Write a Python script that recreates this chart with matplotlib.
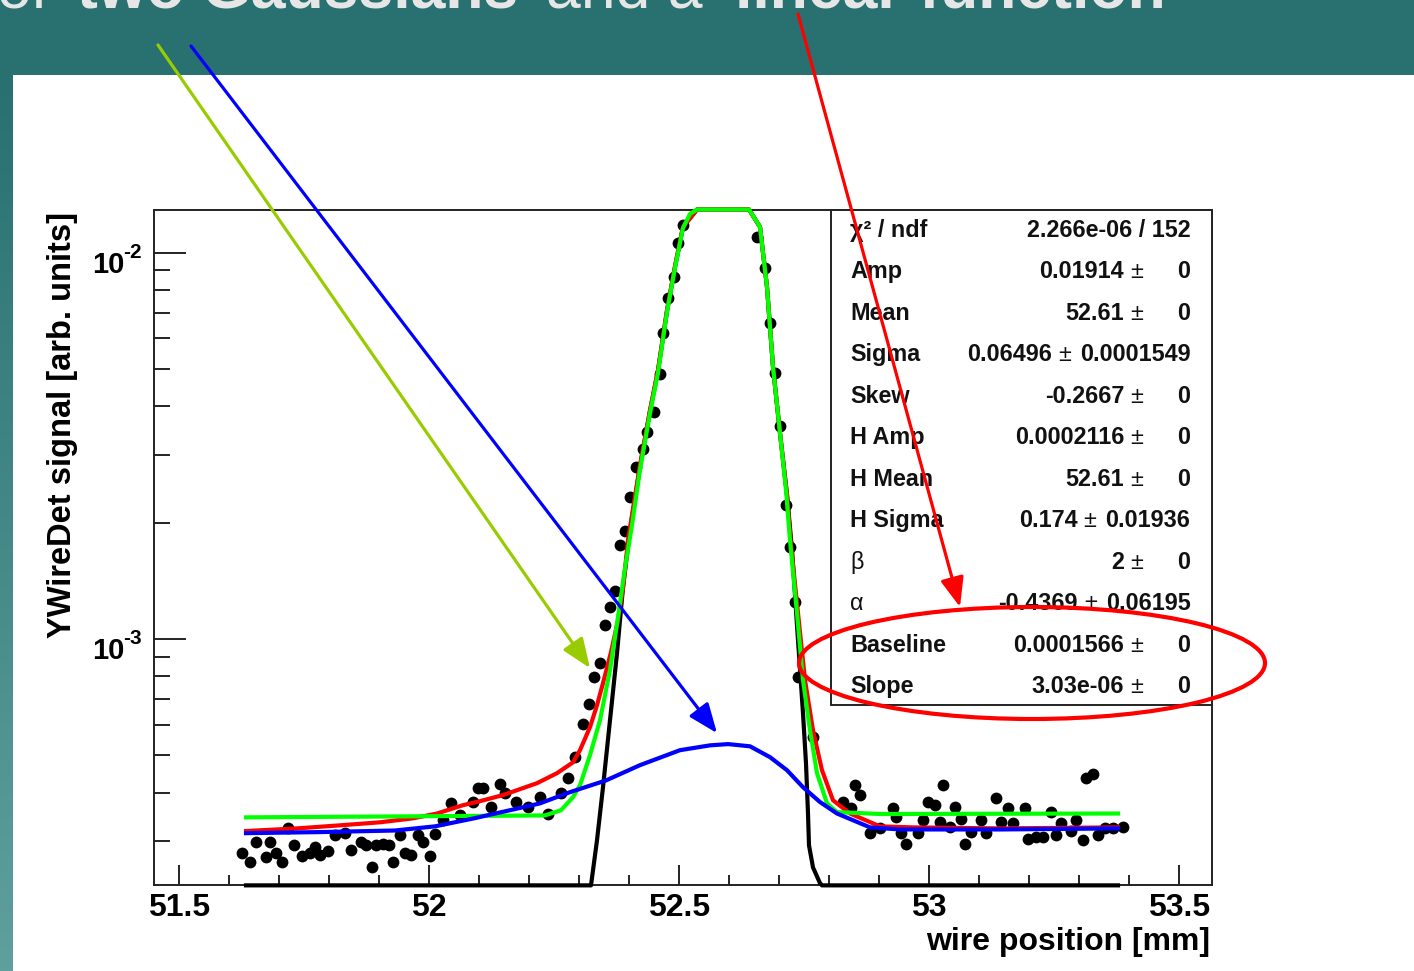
import numpy as np
import matplotlib
matplotlib.use('Agg')
import matplotlib.pyplot as plt
from matplotlib.patches import Rectangle, Ellipse, ConnectionPatch
from matplotlib.ticker import MultipleLocator, LogLocator, NullFormatter
from matplotlib import transforms

plt.rcParams['font.family'] = ['Liberation Sans', 'DejaVu Sans']

E4 = 1e-4  # all signal values below are in units of 1e-4

# wire scan: position [mm] and detector signal
scan_x = [51.627, 51.643, 51.655, 51.674, 51.683, 51.695, 51.707, 51.719, 51.730, 51.747,
          51.762, 51.772, 51.782, 51.799, 51.812, 51.832, 51.845, 51.865, 51.875, 51.887,
          51.895, 51.909, 51.921, 51.929, 51.942, 51.952, 51.965, 51.979, 51.989, 52.002,
          52.012, 52.029, 52.045, 52.062, 52.089, 52.099, 52.109, 52.125, 52.142, 52.152,
          52.175, 52.199, 52.222, 52.239, 52.265, 52.279, 52.292, 52.309, 52.321, 52.330,
          52.343, 52.352, 52.362, 52.372, 52.382, 52.392, 52.403, 52.415, 52.429, 52.437,
          52.451, 52.462, 52.469, 52.479, 52.491, 52.499, 52.509,
          52.657, 52.672, 52.682, 52.692, 52.702, 52.715, 52.723, 52.732, 52.739, 52.769,
          52.829, 52.845, 52.852, 52.862, 52.882, 52.902, 52.929, 52.935, 52.945, 52.955,
          52.979, 52.989, 52.999, 53.012, 53.022, 53.029, 53.042, 53.052, 53.065, 53.072,
          53.085, 53.105, 53.115, 53.135, 53.145, 53.159, 53.169, 53.192, 53.199, 53.215,
          53.229, 53.245, 53.255, 53.265, 53.285, 53.295, 53.309, 53.315, 53.329, 53.339,
          53.352, 53.369, 53.389]
scan_y = [2.79, 2.64, 2.98, 2.72, 2.98, 2.79, 2.64, 3.23, 2.92, 2.74,
          2.79, 2.89, 2.75, 2.83, 3.10, 3.14, 2.84, 2.98, 2.92, 2.56,
          2.92, 2.95, 2.92, 2.64, 3.10, 2.79, 2.75, 3.10, 2.98, 2.74,
          3.12, 3.39, 3.76, 3.49, 3.78, 4.10, 4.10, 3.67, 4.20, 3.98,
          3.78, 3.67, 3.89, 3.53, 4.00, 4.36, 4.94, 6.01, 6.77, 7.96,
          8.65, 10.85, 12.08, 13.3, 17.5, 19.0, 23.3, 27.9, 31.0, 34.3,
          38.7, 48.5, 61.9, 76.3, 86.5, 106.0, 117.9,
          109.8, 91.3, 65.8, 48.8, 35.6, 22.2, 17.3, 12.45, 7.96, 5.56,
          3.78, 3.64, 4.18, 3.94, 3.14, 3.23, 3.64, 3.45, 3.14, 2.95,
          3.14, 3.39, 3.78, 3.71, 3.36, 4.18, 3.26, 3.67, 3.42, 2.95,
          3.17, 3.39, 3.14, 3.88, 3.36, 3.64, 3.33, 3.64, 3.04, 3.07,
          3.07, 3.57, 3.10, 3.33, 3.19, 3.39, 3.01, 4.36, 4.48, 3.10,
          3.23, 3.23, 3.26]

# main skewed peak alone (black), as drawn inside the frame
peak_x = [51.634, 52.324, 52.336, 52.348, 52.362, 52.376, 52.388, 52.402, 52.422, 52.442,
          52.458, 52.476, 52.492, 52.508, 52.536, 52.640, 52.662, 52.676, 52.688, 52.702,
          52.716, 52.726, 52.738, 52.748, 52.754, 52.758, 52.760, 52.768, 52.782, 52.786,
          53.378]
peak_y = [2.30, 2.30, 3.01, 4.13, 6.16, 9.18, 13.6, 19.1, 27.9, 38.9,
          49.4, 70.6, 91.8, 116.6, 129.4, 129.4, 116.6, 81.5, 50.6, 34.1,
          23.6, 17.0, 9.92, 6.42, 4.76, 3.53, 2.92, 2.56, 2.33, 2.30,
          2.30]

# full fit: peak + halo + linear baseline (red)
total_x = [51.634, 51.736, 51.822, 51.902, 51.968, 52.016, 52.068, 52.102, 52.148, 52.216,
           52.256, 52.288, 52.302, 52.322, 52.336, 52.348, 52.364, 52.378, 52.388, 52.398,
           52.406, 52.422, 52.442, 52.458, 52.476, 52.492, 52.508, 52.536, 52.640, 52.662,
           52.676, 52.688, 52.702, 52.716, 52.724, 52.738, 52.752, 52.768, 52.786, 52.808,
           52.842, 52.902, 52.968, 53.142, 53.378]
total_y = [3.18, 3.23, 3.29, 3.35, 3.43, 3.53, 3.71, 3.80, 3.94, 4.23,
           4.49, 4.79, 5.15, 5.91, 6.73, 7.68, 9.24, 11.18, 13.5, 18.0,
           20.9, 28.2, 39.1, 49.7, 71.1, 92.4, 116.6, 129.4, 129.4, 116.6,
           81.5, 50.6, 34.1, 23.6, 17.5, 11.66, 7.82, 5.80, 4.57, 3.82,
           3.53, 3.27, 3.25, 3.23, 3.25]

# single peak on a flat background (green)
single_x = [51.634, 51.942, 52.232, 52.264, 52.288, 52.302, 52.322, 52.342, 52.362, 52.378,
            52.392, 52.406, 52.422, 52.442, 52.458, 52.476, 52.492, 52.508, 52.522, 52.536,
            52.640, 52.662, 52.676, 52.688, 52.702, 52.714, 52.722, 52.736, 52.748, 52.762,
            52.776, 52.796, 52.816, 52.902, 53.378]
single_y = [3.45, 3.47, 3.49, 3.60, 3.89, 4.18, 5.00, 6.16, 8.30, 11.38,
            15.25, 19.7, 27.4, 38.4, 48.8, 70.2, 91.3, 115.9, 126.0, 129.4,
            129.4, 116.6, 81.5, 50.6, 34.1, 24.3, 18.0, 11.66, 7.82, 5.80,
            4.49, 3.75, 3.56, 3.52, 3.53]

# halo Gaussian + linear baseline (blue)
halo_x = [51.634, 51.782, 51.932, 52.012, 52.090, 52.170, 52.222, 52.282, 52.354, 52.422,
          52.502, 52.562, 52.598, 52.642, 52.682, 52.716, 52.748, 52.782, 52.816, 52.882,
          52.942, 53.142, 53.378]
halo_y = [3.14, 3.16, 3.19, 3.27, 3.43, 3.62, 3.75, 4.01, 4.30, 4.71,
          5.15, 5.30, 5.34, 5.27, 4.94, 4.57, 4.13, 3.78, 3.53, 3.25,
          3.21, 3.21, 3.23]

x_ticks = [51.5, 52.0, 52.5, 53.0, 53.5]
x_ticklabels = ['51.5', '52', '52.5', '53', '53.5']
y_decades = [1e-3, 1e-2]
y_exponents = ['-3', '-2']

chi2_text = '2.266e-06 / 152'
par_names = ['Amp', 'Mean', 'Sigma', 'Skew', 'H Amp', 'H Mean', 'H Sigma',
             'β', 'α', 'Baseline', 'Slope']
par_values = ['0.01914', '52.61', '0.06496', '-0.2667', '0.0002116', '52.61', '0.174',
              '2', '-0.4369', '0.0001566', '3.03e-06']
par_errors = ['0', '0', '0.0001549', '0', '0', '0', '0.01936', '0', '0.06195', '0', '0']

W, H = 1414, 971
fig = plt.figure(figsize=(W / 100, H / 100), dpi=100, facecolor='white')


def fx(px):
    return px / W


def fy(py):
    return 1 - py / H


# slide decoration: teal header band and left strip with gradient
fig.add_artist(Rectangle((0, fy(75)), 1, 75 / H, transform=fig.transFigure,
                         color='#287170', lw=0, zorder=0))
strip = fig.add_axes([0, 0, fx(13), fy(75)])
top_c = np.array([40, 113, 112]) / 255
bot_c = np.array([95, 160, 157]) / 255
ramp = np.linspace(0, 1, 200)[:, None, None]
strip.imshow(top_c * (1 - ramp) + bot_c * ramp, aspect='auto')
strip.axis('off')

title_kw = dict(fontsize=45, color='#e6e6e6', va='baseline')
fig.text(fx(-4), fy(7), 'of', **title_kw)
fig.text(fx(77), fy(7), 'two Gaussians', fontweight='bold', **title_kw)
fig.text(fx(546), fy(7), 'and a', **title_kw)
fig.text(fx(735), fy(7), 'linear function', fontweight='bold', **title_kw)

# plot frame
ax = fig.add_axes([fx(154), fy(885), fx(1212) - fx(154), fy(210) - fy(885)])
ax.set_xlim(51.45, 53.566)
ax.set_yscale('log')
ax.set_ylim(2.305e-4, 1.29e-2)

ax.plot(scan_x, np.array(scan_y) * E4, 'o', color='black', ms=8.5, mew=0, zorder=3)
ax.plot(peak_x, np.array(peak_y) * E4, color='black', lw=3, zorder=4, clip_on=False)
ax.plot(total_x, np.array(total_y) * E4, color='#ff0000', lw=3, zorder=5, clip_on=False)
ax.plot(single_x, np.array(single_y) * E4, color='#00ff00', lw=3, zorder=6, clip_on=False)
ax.plot(halo_x, np.array(halo_y) * E4, color='#0000ff', lw=3, zorder=7, clip_on=False)

for sp in ax.spines.values():
    sp.set_linewidth(1.4)
    sp.set_color('#222222')

ax.set_xticks(x_ticks)
ax.set_xticklabels(x_ticklabels, fontsize=23, fontweight='bold')
ax.xaxis.set_minor_locator(MultipleLocator(0.1))
ax.set_yticks(y_decades)
ax.set_yticklabels([])
ax.yaxis.set_minor_locator(LogLocator(base=10, subs=np.arange(2, 10)))
ax.yaxis.set_minor_formatter(NullFormatter())
ax.tick_params(which='both', direction='in', top=False, right=False,
               width=1.4, color='#222222')
ax.tick_params(axis='x', which='major', length=14.4, pad=5.5)
ax.tick_params(axis='x', which='minor', length=7.2)
ax.tick_params(axis='y', which='major', length=23)
ax.tick_params(axis='y', which='minor', length=11.5)

# decade labels drawn as "10" with a raised exponent
blend = transforms.blended_transform_factory(ax.transAxes, ax.transData)
base_tr = blend + transforms.ScaledTranslation(-0.30, -0.20, fig.dpi_scale_trans)
exp_tr = blend + transforms.ScaledTranslation(-0.12, -0.05, fig.dpi_scale_trans)
for val, ex in zip(y_decades, y_exponents):
    ax.text(0, val, '10', transform=base_tr, ha='right', va='baseline',
            fontsize=21, fontweight='bold')
    ax.text(0, val, ex, transform=exp_tr, ha='right', va='baseline',
            fontsize=15, fontweight='bold')

fig.text(fx(63), fy(212), 'YWireDet signal [arb. units]', rotation=90,
         ha='center', va='top', fontsize=23.5, fontweight='bold')
fig.text(fx(1210), fy(950), 'wire position [mm]', ha='right', va='baseline',
         fontsize=23, fontweight='bold')

# fit statistics box
fig.add_artist(Rectangle((fx(831), fy(705)), fx(1212) - fx(831), fy(210) - fy(705),
                         transform=fig.transFigure, facecolor='white',
                         edgecolor='#222222', lw=1.4, zorder=10))
stat_kw = dict(fontsize=16.8, color='#111111', va='baseline', zorder=11)
row0, step = 236.8, 41.5
fig.text(fx(850), fy(row0), 'χ² / ndf', fontweight='bold', **stat_kw)
fig.text(fx(1190.5), fy(row0), chi2_text, ha='right', fontweight='bold', **stat_kw)

renderer = fig.canvas.get_renderer()
for i, (name, val, err) in enumerate(zip(par_names, par_values, par_errors)):
    yb = fy(row0 + step * (i + 1))
    greek = name in ('β', 'α')
    fig.text(fx(850), yb, name, fontweight='normal' if greek else 'bold', **stat_kw)
    t_err = fig.text(fx(1190.5), yb, err, ha='right', fontweight='bold', **stat_kw)
    err_left = t_err.get_window_extent(renderer).x0
    pm_right = min(1143, err_left - 9)
    t_pm = fig.text(fx(pm_right), yb, '±', ha='right', fontweight='normal', **stat_kw)
    pm_left = t_pm.get_window_extent(renderer).x0
    fig.text(fx(pm_left - 6), yb, val, ha='right', fontweight='bold', **stat_kw)

# annotation arrows and highlight ellipse, drawn above the statistics box
arrow_style = '-|>,head_length=1.5,head_width=0.6'


def pointer(tail, tip, tip_coords, color):
    con = ConnectionPatch(xyA=tail, coordsA='figure fraction', xyB=tip, coordsB=tip_coords,
                          arrowstyle=arrow_style, mutation_scale=12, color=color,
                          lw=2.3, shrinkA=0, shrinkB=0, zorder=20)
    fig.add_artist(con)


pointer((fx(158), fy(45)), (52.322, 8.4 * E4), ax.transData, '#99cc00')
pointer((fx(191), fy(46)), (52.576, 5.7 * E4), ax.transData, '#0000ff')
pointer((fx(798), fy(14)), (fx(960), fy(607)), 'figure fraction', '#ff0000')
fig.add_artist(Ellipse((fx(1032), fy(663)), 466 / W, 112 / H, transform=fig.transFigure,
                       fill=False, edgecolor='#ff0000', lw=3, zorder=21))

fig.savefig('out.png', dpi=100, facecolor='white')
